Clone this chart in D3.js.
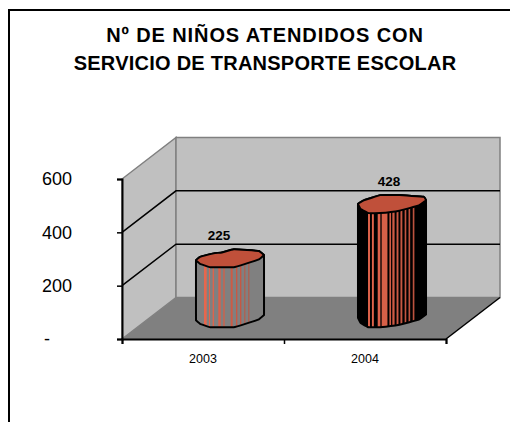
<!DOCTYPE html>
<html>
<head>
<meta charset="utf-8">
<script src="https://cdnjs.cloudflare.com/ajax/libs/d3/7.8.5/d3.min.js"></script>
<style>
html, body { margin: 0; padding: 0; background: #fff; overflow: hidden; }
text { font-family: "Liberation Sans", Arial, sans-serif; }
</style>
</head>
<body>
<svg id="chart" width="510" height="422"></svg>
<script>
const years = ["2003", "2004"];
const ninos = [225, 428];
const yTicks = [0, 200, 400, 600];
const titleLines = ["Nº DE NIÑOS ATENDIDOS CON", "SERVICIO DE TRANSPORTE ESCOLAR"];

// hand traced outline of each column top, in units of the ellipse radii
const topShapes = [
    [[-1, .23], [-.88, -.15], [-.48, -.54], [-.24, -.65], [.11, -1], [.5, -.92], [.85, -.8], [1, -.35],
     [.85, .12], [.45, .62], [.11, 1], [-.24, 1], [-.58, 1], [-.88, .62]],
    [[-1, -.04], [-.83, -.42], [-.35, -1], [.22, -1], [.93, -.81], [1, -.42],
     [.79, .15], [.22, .73], [-.35, 1], [-.69, 1], [-.92, .54]]
];
// index of the rightmost point, the lower edge runs from there back to the left
const rightIndex = [7, 5];
// stripes across the column body, fractions of its width
const stripes = [
    [[.118, .157], [.191, .206], [.245, .265], [.328, .363], [.402, .421], [.51, .539], [.588, .608], [.647, .667], [.711, .725], [.77, .784]],
    [[.148, .176], [.205, .233], [.29, .329], [.348, .433], [.462, .486], [.505, .538], [.567, .595], [.624, .652], [.686, .71], [.743, .767], [.805, .829]]
];
const bodyColor = ["#808080", "#000000"];

const margin = { left: 122, right: 64, top: 179, bottom: 83 };
const width = 510, height = 422;
const depth = { x: 54, y: -41.5 };
const w = width - margin.left - margin.right;
const h = height - margin.top - margin.bottom;

const svg = d3.select("#chart");

const xScale = d3.scaleBand().domain(years).range([0, w]);
const edgeScale = d3.scaleLinear().domain([0, years.length]).range([0, w]);
const yScale = d3.scaleLinear().domain([0, 600]).range([h, 0]);

// chart frame, runs off the page on the right and the bottom
svg.append("rect")
    .attr("x", 9).attr("y", 10)
    .attr("width", 540).attr("height", 460)
    .attr("fill", "none").attr("stroke", "#000").attr("stroke-width", 2);

// title is set wide in the original, each line gets its own spacing
svg.selectAll(".title")
    .data(titleLines)
    .join("text")
    .attr("class", "title")
    .attr("x", 265)
    .attr("y", (d, i) => 41.5 + i * 28.5)
    .attr("text-anchor", "middle")
    .attr("font-size", 20)
    .attr("font-weight", "bold")
    .attr("letter-spacing", (d, i) => i === 0 ? .9 : .25)
    .text(d => d);

const g = svg.append("g").attr("transform", `translate(${margin.left}, ${margin.top})`);
const line = d3.line();
const pts = arr => line(arr) + "Z";

// floor and walls
g.append("path")
    .attr("d", pts([[0, h], [w, h], [w + depth.x, h + depth.y], [depth.x, h + depth.y]]))
    .attr("fill", "#808080");
g.append("path")
    .attr("d", pts([[0, h], [depth.x, h + depth.y], [depth.x, depth.y], [0, 0]]))
    .attr("fill", "#c0c0c0").attr("stroke", "#808080").attr("stroke-width", 1.5);
g.append("rect")
    .attr("x", depth.x).attr("y", depth.y)
    .attr("width", w).attr("height", h)
    .attr("fill", "#c0c0c0").attr("stroke", "#808080").attr("stroke-width", 1.5);

// gridlines
const gridTicks = yTicks.filter(d => d > 0 && d < 600);
g.selectAll(".grid")
    .data(gridTicks)
    .join("path")
    .attr("class", "grid")
    .attr("d", d => line([[0, yScale(d)], [depth.x, yScale(d) + depth.y], [w + depth.x, yScale(d) + depth.y]]))
    .attr("fill", "none").attr("stroke", "#000").attr("stroke-width", 1.5);

// right edge of the floor
g.append("line")
    .attr("x1", w).attr("y1", h)
    .attr("x2", w + depth.x).attr("y2", h + depth.y)
    .attr("stroke", "#000").attr("stroke-width", 1.5);

// axes
const yAxis = g.append("g")
    .call(d3.axisLeft(yScale).tickValues(yTicks).tickSize(5).tickFormat(d => d === 0 ? "-" : d));
yAxis.selectAll("path").attr("stroke", "#000").attr("stroke-width", 2);
yAxis.selectAll("line").attr("stroke", "#000").attr("stroke-width", 1.5);
yAxis.selectAll("text")
    .attr("x", -50)
    .attr("dx", d => d === 0 ? -22 : 0)
    .attr("font-size", 18)
    .attr("font-family", "Liberation Sans")
    .attr("fill", "#000");

const edgeAxis = g.append("g")
    .attr("transform", `translate(0, ${h})`)
    .call(d3.axisBottom(edgeScale).tickValues([0, 1, 2]).tickSize(5).tickFormat(""));
edgeAxis.selectAll("path").attr("stroke", "#000").attr("stroke-width", 2);
edgeAxis.selectAll("line").attr("stroke", "#000").attr("stroke-width", 1.5);

const xAxis = g.append("g")
    .attr("transform", `translate(0, ${h})`)
    .call(d3.axisBottom(xScale).tickSize(0).tickPadding(15));
xAxis.select("path").remove();
xAxis.selectAll("text")
    .attr("font-size", 12.5)
    .attr("font-family", "Liberation Sans")
    .attr("fill", "#000");

// columns stand halfway back on the floor
const rx = xScale.bandwidth() * .21;
const ry = 9;
const columns = g.selectAll(".column")
    .data(years)
    .join("g")
    .attr("class", "column")
    .attr("transform", d => `translate(${xScale(d) + xScale.bandwidth() / 2 + depth.x / 2}, ${h + depth.y / 2})`);

const defs = svg.append("defs");

columns.each(function (year, i) {
    const col = d3.select(this);
    const barH = h - yScale(ninos[i]);
    const shape = topShapes[i].map(p => [p[0] * rx, p[1] * ry - barH]);
    const lower = shape.slice(rightIndex[i]).concat([shape[0]]);
    const base = lower.map(p => [p[0], p[1] + barH]);
    const smooth = d3.line().curve(d3.curveCardinal.tension(.8));
    const smoothClosed = d3.line().curve(d3.curveCardinalClosed.tension(.8));

    // body outline: left side down, along the base, up the right side
    const upper = shape.slice(0, rightIndex[i] + 1);
    const outline = smooth(upper) + "L" + smooth(base).slice(1) + "Z";

    defs.append("clipPath").attr("id", `body${i}`).append("path").attr("d", outline);

    col.append("path").attr("d", outline).attr("fill", bodyColor[i]);

    col.append("g")
        .attr("clip-path", `url(#body${i})`)
        .selectAll("rect")
        .data(stripes[i])
        .join("rect")
        .attr("x", d => -rx + d[0] * 2 * rx)
        .attr("y", -barH - ry)
        .attr("width", d => (d[1] - d[0]) * 2 * rx)
        .attr("height", barH + 2 * ry)
        .attr("fill", d => d3.interpolateRgb("#ee6a50", "#b04c3a")(d[0]));

    col.append("path").attr("d", outline)
        .attr("fill", "none").attr("stroke", "#000").attr("stroke-width", 2).attr("stroke-linejoin", "round");

    col.append("path").attr("d", smoothClosed(shape))
        .attr("fill", "#c0503a").attr("stroke", "#000").attr("stroke-width", 2);

    col.append("text")
        .attr("x", i === 0 ? -11 : -3)
        .attr("y", -barH - 18)
        .attr("text-anchor", "middle")
        .attr("font-size", 13.5)
        .attr("font-weight", "bold")
        .text(ninos[i]);
});
</script>
</body>
</html>
